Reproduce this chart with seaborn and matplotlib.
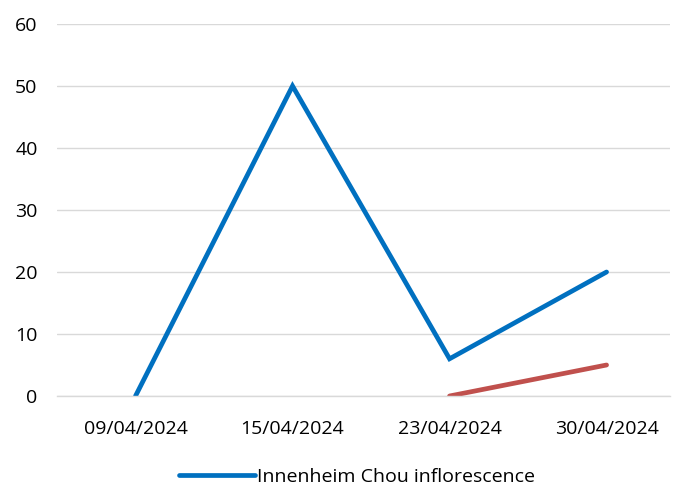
import numpy as np
import pandas as pd
import matplotlib
matplotlib.use("Agg")
import matplotlib.pyplot as plt
import seaborn as sns

dates = ["09/04/2024", "15/04/2024", "23/04/2024", "30/04/2024"]
blue_values = [0, 50, 6, 20]
red_values = [np.nan, np.nan, 0, 5]
blue_label = "Innenheim Chou inflorescence"
y_ticks = [0, 10, 20, 30, 40, 50, 60]

sns.set_theme(style="white")
plt.rcParams["font.family"] = ["Open Sans", "DejaVu Sans"]

df_blue = pd.DataFrame({"x": range(len(dates)), "y": blue_values})
df_red = pd.DataFrame({"x": range(len(dates)), "y": red_values}).dropna()

fig = plt.figure(figsize=(6.82, 4.88), dpi=100)
ax = fig.add_axes([57 / 682, 92 / 488, 613 / 682, 372 / 488])

sns.lineplot(data=df_blue, x="x", y="y", ax=ax, color="#0070C0", linewidth=3.4,
             label=blue_label, sort=False, solid_capstyle="round", solid_joinstyle="miter")
sns.lineplot(data=df_red, x="x", y="y", ax=ax, color="#C0504D", linewidth=3.4,
             sort=False, legend=False, solid_capstyle="round")

fs = 14
ax.set_ylim(0, 60)
ax.set_xlim(-0.5, 3.404)
ax.set_yticks(y_ticks)
ax.set_yticklabels([str(v) for v in y_ticks])
ax.set_xticks(range(len(dates)))
ax.set_xticklabels(dates)
ax.set_xticks([-0.5, 0.5, 1.5, 2.5], minor=True)
ax.tick_params(axis="x", which="major", length=0, pad=17, labelsize=fs, colors="#000000")
ax.tick_params(axis="x", which="minor", length=6, color="#D9D9D9", width=1)
ax.tick_params(axis="y", length=0, pad=14, labelsize=fs, colors="#000000")
ax.yaxis.grid(True, color="#D9D9D9", linewidth=1)
ax.set_axisbelow(True)
ax.set_xlabel("")
ax.set_ylabel("")
for s in ["top", "right", "left"]:
    ax.spines[s].set_visible(False)
ax.spines["bottom"].set_color("#D9D9D9")
ax.spines["bottom"].set_linewidth(1)

leg = ax.legend(loc="center", bbox_to_anchor=(357 / 682, 11 / 488), bbox_transform=fig.transFigure,
                frameon=False, fontsize=fs, handlelength=3.9, handletextpad=0.1)
for t in leg.get_texts():
    t.set_color("#000000")

fig.savefig("out.png", dpi=100)
